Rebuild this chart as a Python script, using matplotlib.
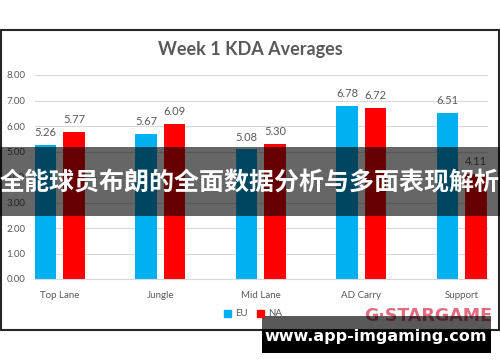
import numpy as np
import matplotlib
matplotlib.use("Agg")
import matplotlib.pyplot as plt
from matplotlib.patches import Rectangle, Patch

# data
roles = ["Top Lane", "Jungle", "Mid Lane", "AD Carry", "Support"]
eu_kda = [5.26, 5.67, 5.08, 6.78, 6.51]
na_kda = [5.77, 6.09, 5.30, 6.72, 4.11]
series_names = ["EU", "NA"]
y_ticks = [0, 1, 2, 3, 4, 5, 6, 7, 8]

title = "Week 1 KDA Averages"
banner_text = "全能球员布朗的全面数据分析与多面表现解析"
site_text = "www.app-imgaming.com"
logo_text = "G·STARGAME"

c_eu = "#00B0F0"
c_na = "#FF0000"
c_txt = "#595959"
c_grid = "#D9D9D9"

plt.rcParams["font.family"] = ["Lato", "DejaVu Sans"]

W, H = 500, 362
fig = plt.figure(figsize=(W / 100, H / 100), dpi=100)

def fx(px):
    return px / W

def fy(py):
    return 1 - py / H

# chart frame
fig.patches.append(Rectangle((fx(1), fy(330)), fx(498), 300 / H, transform=fig.transFigure,
                             fill=False, edgecolor="#262626", lw=1.5, zorder=0))

ax = fig.add_axes([fx(35), fy(279), fx(453), 204 / H])
x = np.arange(len(roles))
bw = 0.214
off = 0.142
b1 = ax.bar(x - off, eu_kda, bw, color=c_eu, zorder=2)
b2 = ax.bar(x + off, na_kda, bw, color=c_na, zorder=2)
for bars, vals in ((b1, eu_kda), (b2, na_kda)):
    for b, v in zip(bars, vals):
        ax.annotate(f"{v:.2f}", (b.get_x() + b.get_width() / 2, v), xytext=(0, 5),
                    textcoords="offset points", ha="center", va="bottom",
                    fontsize=8, color=c_txt)

ax.set_xlim(-0.246, 4.26)
ax.set_ylim(0, 8)
ax.set_yticks(y_ticks)
ax.set_yticklabels([f"{v:.2f}" for v in y_ticks])
ax.set_xticks(x)
ax.set_xticklabels(roles)
ax.tick_params(axis="both", length=0, labelsize=7, colors=c_txt)
ax.tick_params(axis="x", pad=9)
ax.tick_params(axis="y", pad=7)
ax.grid(axis="y", color=c_grid, lw=0.8, zorder=0)
for s in ["top", "right", "left"]:
    ax.spines[s].set_visible(False)
ax.spines["bottom"].set_color(c_grid)

fig.text(fx(250), fy(50), title, ha="center", va="center", fontsize=13,
         fontweight="bold", color=c_txt)

handles = [Patch(color=c_eu), Patch(color=c_na)]
fig.legend(handles, series_names, loc="center", bbox_to_anchor=(fx(253), fy(314)), ncol=2,
           frameon=False, fontsize=7, handlelength=0.7, handleheight=0.7,
           handletextpad=0.4, columnspacing=1.0, labelcolor=c_txt)

# logo
fig.text(fx(428), fy(316), logo_text, ha="center", va="center", fontsize=12.5,
         fontweight="bold", color="#E0506A", alpha=0.85, family=["DejaVu Sans"])

# overlay banner
fig.patches.append(Rectangle((0, fy(216)), 1, 69 / H, transform=fig.transFigure,
                             color="black", alpha=0.6, lw=0, zorder=5))
fig.text(fx(250), fy(183), banner_text, ha="center", va="center", fontsize=18,
         fontweight="bold", color="white", family=["Noto Sans CJK SC", "DejaVu Sans"],
         zorder=6)

# watermark box
fig.patches.append(Rectangle((fx(262), fy(330)), fx(229), 14 / H, transform=fig.transFigure,
                             color="black", alpha=0.65, lw=0, zorder=5))
fig.patches.append(Rectangle((fx(262), fy(353)), fx(229), 23 / H, transform=fig.transFigure,
                             color="black", lw=0, zorder=5))
fig.text(fx(376), fy(337), site_text, ha="center", va="center", fontsize=11.5,
         fontweight="bold", color="white", family=["DejaVu Sans"], zorder=6)

fig.savefig("out.png", dpi=100)
